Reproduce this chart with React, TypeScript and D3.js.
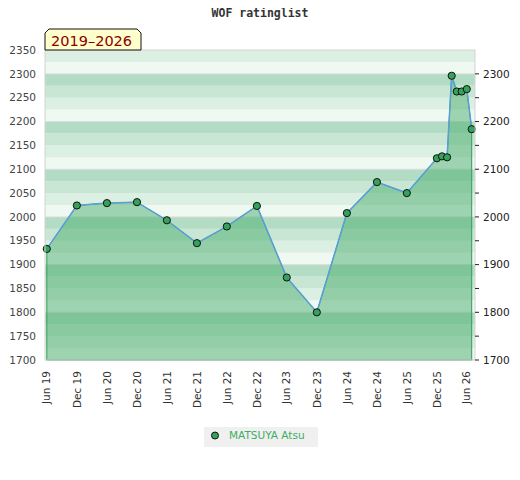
import * as d3 from "d3";

// rating lists (month of publication) and ratings
const listDates = [
  "2019-06", "2019-12", "2020-06", "2020-12", "2021-06", "2021-12", "2022-06",
  "2022-12", "2023-06", "2023-12", "2024-06", "2024-12", "2025-06", "2025-12",
  "2026-01", "2026-02", "2026-03", "2026-04", "2026-05", "2026-06", "2026-07",
];
const ratings = [
  1933, 2024, 2029, 2031, 1993, 1945, 1980, 2023, 1873, 1800, 2008, 2073, 2050,
  2123, 2127, 2125, 2296, 2263, 2263, 2268, 2184,
];
const tickDates = [
  "2019-06", "2019-12", "2020-06", "2020-12", "2021-06", "2021-12", "2022-06",
  "2022-12", "2023-06", "2023-12", "2024-06", "2024-12", "2025-06", "2025-12",
  "2026-06",
];
const leftTicks = [1700, 1750, 1800, 1850, 1900, 1950, 2000, 2050, 2100, 2150, 2200, 2250, 2300, 2350];
const rightTicks = [1700, 1800, 1900, 2000, 2100, 2200, 2300];
const playerName = "MATSUYA Atsu";
const periodLabel = "2019–2026";

const parse = d3.timeParse("%Y-%m");
const fmt = d3.timeFormat("%b %y");

// stripe shades, from the bottom quarter of each 100 block up
const stripeColors = ["#f0f8f2", "#dcefe3", "#c8e6d3", "#b3dcc4"];

export default function App() {
  const left = 45, right = 475, top = 50, bottom = 360;

  const x = d3
    .scaleTime()
    .domain([new Date(2019, 4, 21), new Date(2026, 6, 21)])
    .range([left, right]);
  const y = d3.scaleLinear().domain([1700, 2350]).range([bottom, top]);

  const pts = listDates.map((d, i) => ({ date: parse(d)!, value: ratings[i] }));

  const line = d3
    .line<{ date: Date; value: number }>()
    .x((d) => x(d.date))
    .y((d) => y(d.value));
  const area = d3
    .area<{ date: Date; value: number }>()
    .x((d) => x(d.date))
    .y0(y(1700))
    .y1((d) => y(d.value));

  const stripes = d3.range(1700, 2350, 25);
  const grid = d3.range(1700, 2351, 100);
  const minor = d3.range(1750, 2350, 100);

  return (
    <svg width={520} height={480} style={{ display: "block", margin: "-8px" }}
      fontFamily="DejaVu Sans, sans-serif">
      <rect width={520} height={480} fill="#fff" />
      <text x={260} y={17} textAnchor="middle" fontFamily="DejaVu Sans Mono, monospace"
        fontWeight="bold" fontSize={11.5} fill="#333">WOF ratinglist</text>

      {/* background stripes */}
      {stripes.map((v) => (
        <rect key={v} x={left} width={right - left} y={y(v + 25)} height={y(v) - y(v + 25)}
          fill={stripeColors[((v - 1700) / 25) % 4]} />
      ))}
      {grid.map((v) => (
        <line key={v} x1={left} x2={right} y1={y(v)} y2={y(v)} stroke="#dcdcdc" />
      ))}

      <path d={area(pts)!} fill="rgba(74,174,110,0.5)" stroke="#2f9e57" strokeWidth={1} />
      <path d={line(pts)!} fill="none" stroke="#5a9fd8" strokeWidth={1.5} />
      {pts.map((p, i) => (
        <circle key={i} cx={x(p.date)} cy={y(p.value)} r={3.6} fill="#35a25c" stroke="#111" strokeWidth={1} />
      ))}

      <rect x={left} y={top} width={right - left} height={bottom - top} fill="none" stroke="#d4d4d4" />

      {/* left axis */}
      {leftTicks.map((v) => (
        <text key={v} x={36} y={y(v)} dy="0.35em" textAnchor="end" fontSize={10.5} fill="#444">{v}</text>
      ))}

      {/* right axis */}
      {rightTicks.map((v) => (
        <g key={v}>
          <line x1={right} x2={right + 4} y1={y(v)} y2={y(v)} stroke="#222" />
          <text x={483} y={y(v)} dy="0.35em" fontSize={10.5} fill="#222">{v}</text>
        </g>
      ))}
      {minor.map((v) => (
        <line key={v} x1={right} x2={right + 4} y1={y(v)} y2={y(v)} stroke="#222" />
      ))}

      {/* x axis */}
      {tickDates.map((d) => {
        const t = parse(d)!;
        return (
          <text key={d} transform={`translate(${x(t)},371) rotate(-90)`} dy="0.35em"
            textAnchor="end" fontSize={10.5} fill="#333">{fmt(t)}</text>
        );
      })}

      {/* period label */}
      <path d={`M${left},${top} L${left},${top - 17} L${left + 4},${top - 21} L${left + 92},${top - 21} L${left + 96},${top - 17} L${left + 96},${top} Z`}
        fill="#ffffcc" stroke="#111" />
      <text x={left + 6} y={46} fontSize={14.5} fill="#8b0000">{periodLabel}</text>

      {/* legend */}
      <rect x={204} y={427} width={114} height={20} fill="#f0f0f0" />
      <circle cx={215} cy={435.5} r={3.5} fill="#35a25c" stroke="#111" />
      <text x={229} y={439} fontSize={10.5} fill="#3cae62">{playerName}</text>
    </svg>
  );
}
